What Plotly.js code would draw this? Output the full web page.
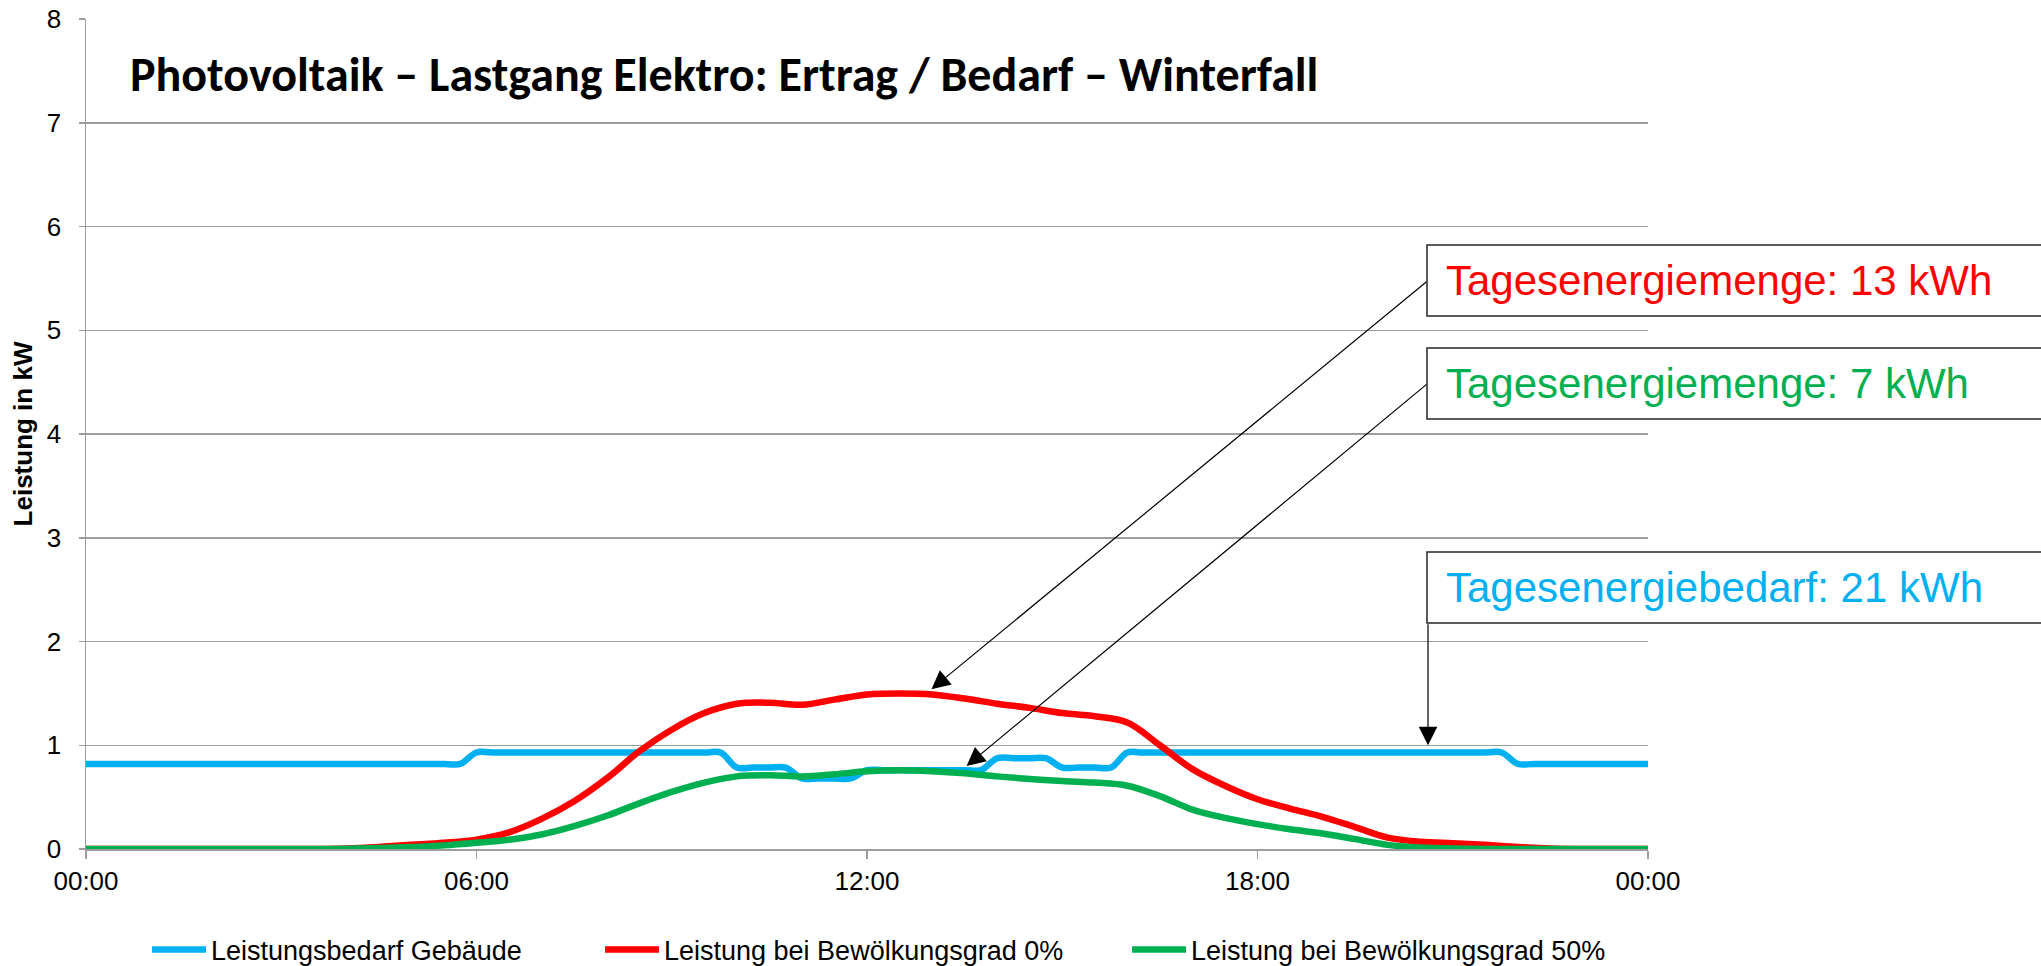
<!DOCTYPE html>
<html><head><meta charset="utf-8">
<script src="https://cdn.plot.ly/plotly-3.0.1.min.js"></script>
<style>html,body{margin:0;padding:0;background:#fff;}#chart{width:2041px;height:966px;}</style>
</head><body><div id="chart"></div>
<script>
// ---- data ----
const demandHours = [0, 5.5, 5.75, 6.0, 6.25, 9.5, 9.75, 10.0, 10.25, 10.5, 10.75, 11.0, 11.25, 11.5, 11.75, 12.0, 12.25,
                     13.5, 13.75, 14.0, 14.25, 14.5, 14.75, 15.0, 15.25, 15.5, 15.75, 16.0, 16.25, 21.5, 21.75, 22.0, 22.25, 24];
const demandKW    = [0.82, 0.82, 0.82, 0.93, 0.93, 0.93, 0.93, 0.785, 0.785, 0.785, 0.785, 0.68, 0.68, 0.68, 0.68, 0.76, 0.76,
                     0.76, 0.76, 0.875, 0.875, 0.875, 0.875, 0.785, 0.785, 0.785, 0.785, 0.93, 0.93, 0.93, 0.93, 0.82, 0.82, 0.82];

const pvHours = [0, 0.5, 1, 1.5, 2, 2.5, 3, 3.5, 4, 4.5, 5, 5.5, 6, 6.5, 7, 7.5, 8, 8.5, 9, 9.5, 10, 10.5, 11, 11.5,
                 12, 12.5, 13, 13.5, 14, 14.5, 15, 15.5, 16, 16.5, 17, 17.5, 18, 18.5, 19, 19.5, 20, 20.5, 21, 21.5, 22, 22.5, 23, 23.5, 24];
const pvClearKW = [0, 0, 0, 0, 0, 0, 0, 0, 0.005, 0.02, 0.04, 0.06, 0.09, 0.16, 0.29, 0.46, 0.68, 0.94, 1.15, 1.31, 1.40, 1.41, 1.39, 1.44,
                   1.49, 1.50, 1.49, 1.45, 1.40, 1.36, 1.31, 1.28, 1.22, 1.00, 0.77, 0.61, 0.48, 0.39, 0.31, 0.21, 0.11, 0.07, 0.055, 0.04, 0.02, 0.005, 0, 0, 0];
const pvCloudyKW = [0, 0, 0, 0, 0, 0, 0, 0, 0.003, 0.01, 0.02, 0.035, 0.06, 0.09, 0.14, 0.22, 0.32, 0.44, 0.55, 0.64, 0.70, 0.71, 0.70, 0.72,
                    0.75, 0.76, 0.75, 0.73, 0.70, 0.675, 0.655, 0.64, 0.61, 0.51, 0.38, 0.30, 0.24, 0.19, 0.15, 0.095, 0.04, 0.015, 0.005, 0, 0, 0, 0, 0, 0];

const seriesNames = ['Leistungsbedarf Gebäude', 'Leistung bei Bewölkungsgrad 0%', 'Leistung bei Bewölkungsgrad 50%'];
const xTickVals = [0, 6, 12, 18, 24];
const xTickText = ['00:00', '06:00', '12:00', '18:00', '00:00'];
const yTickVals = [0, 1, 2, 3, 4, 5, 6, 7, 8];
const chartTitle = 'Photovoltaik – Lastgang Elektro: Ertrag / Bedarf – Winterfall';
const yTitle = 'Leistung in kW';
const boxTexts = ['Tagesenergiemenge: 13 kWh', 'Tagesenergiemenge: 7 kWh', 'Tagesenergiebedarf: 21 kWh'];

// ---- styling ----
const C_BLUE = '#00B0F0', C_RED = '#FF0000', C_GREEN = '#00B050';
const GRID = '#9d9d9d';
const ARIAL = '"Liberation Sans", Arial, sans-serif';

const traces = [
  {x: demandHours, y: demandKW, name: seriesNames[0], type: 'scatter', mode: 'lines',
   line: {color: C_BLUE, width: 6.5, shape: 'spline', smoothing: 1}, legend: 'legend'},
  {x: pvHours, y: pvClearKW, name: seriesNames[1], type: 'scatter', mode: 'lines',
   line: {color: C_RED, width: 6.5, shape: 'spline', smoothing: 1}, legend: 'legend2'},
  {x: pvHours, y: pvCloudyKW, name: seriesNames[2], type: 'scatter', mode: 'lines',
   line: {color: C_GREEN, width: 6.5, shape: 'spline', smoothing: 1}, legend: 'legend3'}
];

const L = 86, R = 393, T = 19, B = 117;
const W = 2041, H = 966;
const PW = W - L - R, PH = H - T - B;
const px2x = p => (p - L) / PW;       // pixel -> paper x
const py2y = p => (H - B - p) / PH;   // pixel -> paper y

const legendBase = {orientation: 'h', yanchor: 'middle', xanchor: 'left', y: py2y(950),
  font: {family: ARIAL, size: 27, color: '#000'}, bgcolor: 'rgba(0,0,0,0)', borderwidth: 0, itemwidth: 54};

const boxes = [[245, 316, C_RED], [348, 419, C_GREEN], [552, 623, C_BLUE]];

const shapes = boxes.map(b => ({type: 'rect', xref: 'paper', yref: 'paper',
  x0: px2x(1427), x1: 1.5, y0: py2y(b[1]), y1: py2y(b[0]),
  line: {color: '#262626', width: 1.5}, fillcolor: '#ffffff', layer: 'above'}));

const annotations = boxes.map((b, i) => ({xref: 'paper', yref: 'paper', x: px2x(1444), y: py2y((b[0] + b[1]) / 2),
  xanchor: 'left', yanchor: 'middle', showarrow: false, text: boxTexts[i],
  font: {family: ARIAL, size: 42, color: b[2]}}));

const arrowBase = {xref: 'x', yref: 'y', axref: 'x', ayref: 'y', text: '', showarrow: true,
  arrowhead: 2, arrowsize: 3.1, arrowwidth: 1.2, arrowcolor: '#000', standoff: 0, startstandoff: 0};
annotations.push(Object.assign({}, arrowBase, {x: 12.99, y: 1.54, ax: 20.62, ay: 5.48}));
annotations.push(Object.assign({}, arrowBase, {x: 13.53, y: 0.80, ax: 20.62, ay: 4.49}));
annotations.push(Object.assign({}, arrowBase, {x: 20.62, y: 1.0, ax: 20.62, ay: 2.18}));

const layout = {
  width: W, height: H,
  margin: {l: L, r: R, t: T, b: B, pad: 0, autoexpand: false},
  paper_bgcolor: '#fff', plot_bgcolor: '#fff',
  showlegend: true,
  title: {text: chartTitle, xref: 'container', yref: 'container', x: 130 / W, xanchor: 'left',
          y: 1 - 74 / H, yanchor: 'middle',
          font: {family: 'Carlito, Calibri, Lato, sans-serif', size: 48, weight: 700, color: '#000'}},
  xaxis: {range: [0, 24], tickvals: xTickVals, ticktext: xTickText, showgrid: false, zeroline: false,
          showline: true, linecolor: GRID, linewidth: 1.5, ticks: 'outside', ticklen: 8, tickwidth: 1.5, tickcolor: GRID,
          tickfont: {family: ARIAL, size: 26, color: '#000'}, ticklabelstandoff: 0, automargin: false, fixedrange: true},
  yaxis: {range: [0, 8], tickvals: yTickVals, showgrid: true, gridcolor: GRID, gridwidth: 1.5, zeroline: false,
          showline: true, linecolor: GRID, linewidth: 1.5, ticks: 'outside', ticklen: 6, tickwidth: 1.5, tickcolor: GRID,
          tickfont: {family: ARIAL, size: 26, color: '#000'}, ticklabelstandoff: 12, automargin: false, fixedrange: true,
          title: {text: yTitle, font: {family: ARIAL, size: 26, weight: 700, color: '#000'}, standoff: 6}},
  legend: Object.assign({}, legendBase, {x: px2x(147)}),
  legend2: Object.assign({}, legendBase, {x: px2x(600)}),
  legend3: Object.assign({}, legendBase, {x: px2x(1127)}),
  shapes: shapes,
  annotations: annotations
};

Plotly.newPlot('chart', traces, layout, {displayModeBar: false, staticPlot: true});
</script>
</body></html>
